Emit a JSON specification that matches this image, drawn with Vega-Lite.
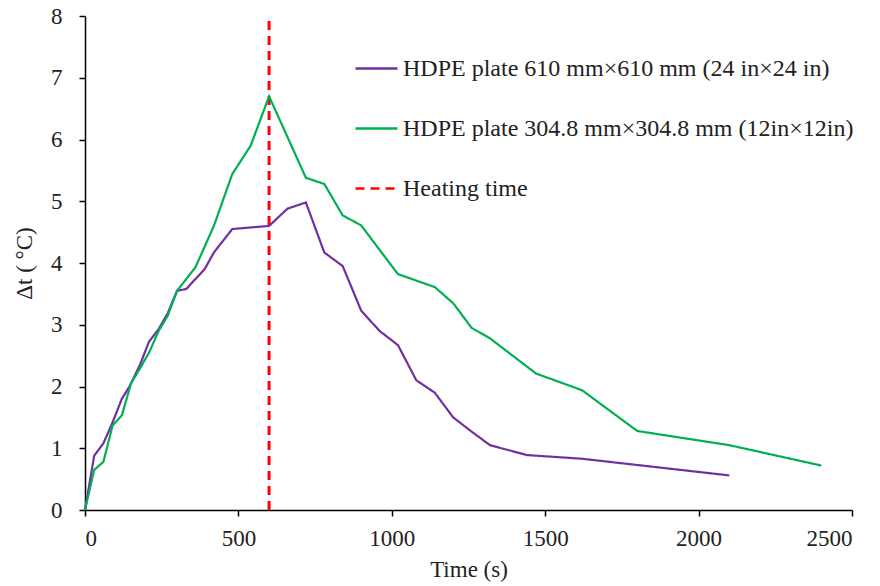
{
  "$schema": "https://vega.github.io/schema/vega-lite/v6.json",
  "width": 767,
  "height": 494,
  "autosize": {"type": "none"},
  "padding": {"left": 85, "top": 16, "right": 28, "bottom": 76},
  "background": "white",
  "config": {
    "view": {"stroke": null},
    "font": "Liberation Serif",
    "axis": {
      "grid": false,
      "domainColor": "#000000",
      "domainWidth": 1.5,
      "tickColor": "#000000",
      "tickWidth": 1.5,
      "tickSize": 6,
      "labelFont": "Liberation Serif",
      "labelFontSize": 23,
      "labelColor": "#222222",
      "titleFont": "Liberation Serif",
      "titleFontSize": 23,
      "titleFontWeight": "normal",
      "titleColor": "#222222"
    },
    "legend": {
      "labelFont": "Liberation Serif",
      "labelFontSize": 24,
      "labelColor": "#222222",
      "labelLimit": 0
    }
  },
  "datasets": {
    "curves": [
      {"series": "HDPE plate 610 mm×610 mm (24 in×24 in)", "t": 0, "dt": 0},
      {"series": "HDPE plate 610 mm×610 mm (24 in×24 in)", "t": 30, "dt": 0.88},
      {"series": "HDPE plate 610 mm×610 mm (24 in×24 in)", "t": 60, "dt": 1.08},
      {"series": "HDPE plate 610 mm×610 mm (24 in×24 in)", "t": 90, "dt": 1.42},
      {"series": "HDPE plate 610 mm×610 mm (24 in×24 in)", "t": 120, "dt": 1.8},
      {"series": "HDPE plate 610 mm×610 mm (24 in×24 in)", "t": 145, "dt": 2.0},
      {"series": "HDPE plate 610 mm×610 mm (24 in×24 in)", "t": 180, "dt": 2.36},
      {"series": "HDPE plate 610 mm×610 mm (24 in×24 in)", "t": 208, "dt": 2.72},
      {"series": "HDPE plate 610 mm×610 mm (24 in×24 in)", "t": 240, "dt": 2.93},
      {"series": "HDPE plate 610 mm×610 mm (24 in×24 in)", "t": 270, "dt": 3.19},
      {"series": "HDPE plate 610 mm×610 mm (24 in×24 in)", "t": 300, "dt": 3.55},
      {"series": "HDPE plate 610 mm×610 mm (24 in×24 in)", "t": 330, "dt": 3.58},
      {"series": "HDPE plate 610 mm×610 mm (24 in×24 in)", "t": 390, "dt": 3.9},
      {"series": "HDPE plate 610 mm×610 mm (24 in×24 in)", "t": 420, "dt": 4.17},
      {"series": "HDPE plate 610 mm×610 mm (24 in×24 in)", "t": 480, "dt": 4.55},
      {"series": "HDPE plate 610 mm×610 mm (24 in×24 in)", "t": 600, "dt": 4.6},
      {"series": "HDPE plate 610 mm×610 mm (24 in×24 in)", "t": 660, "dt": 4.88},
      {"series": "HDPE plate 610 mm×610 mm (24 in×24 in)", "t": 720, "dt": 4.98},
      {"series": "HDPE plate 610 mm×610 mm (24 in×24 in)", "t": 780, "dt": 4.17},
      {"series": "HDPE plate 610 mm×610 mm (24 in×24 in)", "t": 840, "dt": 3.95},
      {"series": "HDPE plate 610 mm×610 mm (24 in×24 in)", "t": 900, "dt": 3.23},
      {"series": "HDPE plate 610 mm×610 mm (24 in×24 in)", "t": 960, "dt": 2.9},
      {"series": "HDPE plate 610 mm×610 mm (24 in×24 in)", "t": 1020, "dt": 2.67},
      {"series": "HDPE plate 610 mm×610 mm (24 in×24 in)", "t": 1080, "dt": 2.1},
      {"series": "HDPE plate 610 mm×610 mm (24 in×24 in)", "t": 1140, "dt": 1.9},
      {"series": "HDPE plate 610 mm×610 mm (24 in×24 in)", "t": 1200, "dt": 1.5},
      {"series": "HDPE plate 610 mm×610 mm (24 in×24 in)", "t": 1260, "dt": 1.27},
      {"series": "HDPE plate 610 mm×610 mm (24 in×24 in)", "t": 1320, "dt": 1.05},
      {"series": "HDPE plate 610 mm×610 mm (24 in×24 in)", "t": 1440, "dt": 0.89},
      {"series": "HDPE plate 610 mm×610 mm (24 in×24 in)", "t": 1620, "dt": 0.83},
      {"series": "HDPE plate 610 mm×610 mm (24 in×24 in)", "t": 2100, "dt": 0.56},
      {"series": "HDPE plate 304.8 mm×304.8 mm (12in×12in)", "t": 0, "dt": 0},
      {"series": "HDPE plate 304.8 mm×304.8 mm (12in×12in)", "t": 30, "dt": 0.65},
      {"series": "HDPE plate 304.8 mm×304.8 mm (12in×12in)", "t": 60, "dt": 0.78},
      {"series": "HDPE plate 304.8 mm×304.8 mm (12in×12in)", "t": 90, "dt": 1.37},
      {"series": "HDPE plate 304.8 mm×304.8 mm (12in×12in)", "t": 120, "dt": 1.53},
      {"series": "HDPE plate 304.8 mm×304.8 mm (12in×12in)", "t": 150, "dt": 2.05},
      {"series": "HDPE plate 304.8 mm×304.8 mm (12in×12in)", "t": 180, "dt": 2.3},
      {"series": "HDPE plate 304.8 mm×304.8 mm (12in×12in)", "t": 210, "dt": 2.56},
      {"series": "HDPE plate 304.8 mm×304.8 mm (12in×12in)", "t": 240, "dt": 2.9},
      {"series": "HDPE plate 304.8 mm×304.8 mm (12in×12in)", "t": 270, "dt": 3.15},
      {"series": "HDPE plate 304.8 mm×304.8 mm (12in×12in)", "t": 300, "dt": 3.55},
      {"series": "HDPE plate 304.8 mm×304.8 mm (12in×12in)", "t": 360, "dt": 3.93},
      {"series": "HDPE plate 304.8 mm×304.8 mm (12in×12in)", "t": 420, "dt": 4.6},
      {"series": "HDPE plate 304.8 mm×304.8 mm (12in×12in)", "t": 480, "dt": 5.44},
      {"series": "HDPE plate 304.8 mm×304.8 mm (12in×12in)", "t": 540, "dt": 5.9},
      {"series": "HDPE plate 304.8 mm×304.8 mm (12in×12in)", "t": 600, "dt": 6.7},
      {"series": "HDPE plate 304.8 mm×304.8 mm (12in×12in)", "t": 720, "dt": 5.38},
      {"series": "HDPE plate 304.8 mm×304.8 mm (12in×12in)", "t": 780, "dt": 5.28},
      {"series": "HDPE plate 304.8 mm×304.8 mm (12in×12in)", "t": 840, "dt": 4.77},
      {"series": "HDPE plate 304.8 mm×304.8 mm (12in×12in)", "t": 900, "dt": 4.61},
      {"series": "HDPE plate 304.8 mm×304.8 mm (12in×12in)", "t": 1020, "dt": 3.82},
      {"series": "HDPE plate 304.8 mm×304.8 mm (12in×12in)", "t": 1140, "dt": 3.61},
      {"series": "HDPE plate 304.8 mm×304.8 mm (12in×12in)", "t": 1200, "dt": 3.35},
      {"series": "HDPE plate 304.8 mm×304.8 mm (12in×12in)", "t": 1260, "dt": 2.95},
      {"series": "HDPE plate 304.8 mm×304.8 mm (12in×12in)", "t": 1320, "dt": 2.78},
      {"series": "HDPE plate 304.8 mm×304.8 mm (12in×12in)", "t": 1470, "dt": 2.21},
      {"series": "HDPE plate 304.8 mm×304.8 mm (12in×12in)", "t": 1620, "dt": 1.94},
      {"series": "HDPE plate 304.8 mm×304.8 mm (12in×12in)", "t": 1800, "dt": 1.28},
      {"series": "HDPE plate 304.8 mm×304.8 mm (12in×12in)", "t": 2100, "dt": 1.05},
      {"series": "HDPE plate 304.8 mm×304.8 mm (12in×12in)", "t": 2400, "dt": 0.72}
    ],
    "heating": [
      {"series": "Heating time", "t": 600, "lo": 0, "hi": 8}
    ]
  },
  "layer": [
    {
      "data": {"name": "heating"},
      "mark": {"type": "rule", "strokeWidth": 3},
      "encoding": {
        "x": {"field": "t", "type": "quantitative"},
        "y": {"field": "lo", "type": "quantitative"},
        "y2": {"field": "hi"},
        "color": {"field": "series", "type": "nominal"},
        "strokeDash": {"field": "series", "type": "nominal"}
      }
    },
    {
      "data": {"name": "curves"},
      "mark": {"type": "line", "strokeWidth": 2.2},
      "encoding": {
        "x": {
          "field": "t", "type": "quantitative",
          "scale": {"domain": [0, 2500], "nice": false},
          "axis": {"values": [0, 500, 1000, 1500, 2000, 2500], "format": "d", "title": "Time (s)", "labelPadding": 11, "titlePadding": 8}
        },
        "y": {
          "field": "dt", "type": "quantitative",
          "scale": {"domain": [0, 8], "nice": false},
          "axis": {"values": [0, 1, 2, 3, 4, 5, 6, 7, 8], "format": "d", "title": "Δt ( °C)", "labelPadding": 17, "titlePadding": 14}
        },
        "color": {
          "field": "series", "type": "nominal",
          "scale": {
            "domain": ["HDPE plate 610 mm×610 mm (24 in×24 in)", "HDPE plate 304.8 mm×304.8 mm (12in×12in)", "Heating time"],
            "range": ["#7030A0", "#00B050", "#FF0000"]
          },
          "legend": {
            "title": null,
            "orient": "none",
            "legendX": 269,
            "legendY": 30,
            "symbolType": "stroke",
            "symbolSize": 1764,
            "symbolStrokeWidth": 2.5,
            "labelOffset": 4,
            "rowPadding": 25
          }
        },
        "strokeDash": {
          "field": "series", "type": "nominal",
          "scale": {
            "domain": ["HDPE plate 610 mm×610 mm (24 in×24 in)", "HDPE plate 304.8 mm×304.8 mm (12in×12in)", "Heating time"],
            "range": [[1, 0], [1, 0], [9, 6]]
          },
          "legend": {
            "title": null,
            "orient": "none",
            "legendX": 269,
            "legendY": 30,
            "symbolType": "stroke",
            "symbolSize": 1764,
            "symbolStrokeWidth": 2.5,
            "labelOffset": 4,
            "rowPadding": 25
          }
        }
      }
    }
  ]
}
